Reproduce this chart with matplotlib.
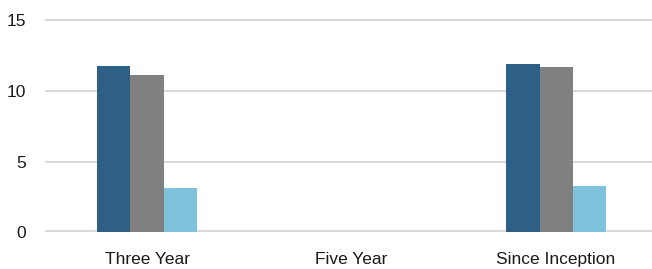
import numpy as np
import matplotlib.pyplot as plt

categories = ["Three Year", "Five Year", "Since Inception"]
fund = [11.77, np.nan, 11.89]
benchmark = [11.12, np.nan, 11.68]
other = [3.13, np.nan, 3.27]

colors = ["#2E5F86", "#808080", "#80C1DC"]

plt.rcParams['font.family'] = ['Liberation Sans', 'DejaVu Sans']

fig = plt.figure(figsize=(6.52, 2.69), dpi=100)
ax = fig.add_axes([45 / 652, 1 - 232.3 / 269, 607 / 652, (232.3 - 17.5) / 269])

x = np.arange(len(categories))
w = 0.162
for i, (vals, c) in enumerate(zip([fund, benchmark, other], colors)):
    ax.bar(x + (i - 1) * w, vals, width=w, color=c, zorder=3)

ax.set_xlim(-0.499, 2.469)
ax.set_ylim(0, 15.2)
ax.set_yticks([0, 5, 10, 15])
ax.set_xticks(x)
ax.set_xticklabels(categories)
ax.grid(axis="y", color="#D9D9D9", linewidth=1.5, zorder=0)
ax.axhline(0, color="#D9D9D9", linewidth=3, zorder=2)
for s in ax.spines.values():
    s.set_visible(False)
ax.tick_params(length=0, labelsize=12.5, colors="#1a1a1a")
ax.tick_params(axis="y", pad=13.5)
ax.tick_params(axis="x", pad=14)

fig.savefig("out.png", dpi=100)
